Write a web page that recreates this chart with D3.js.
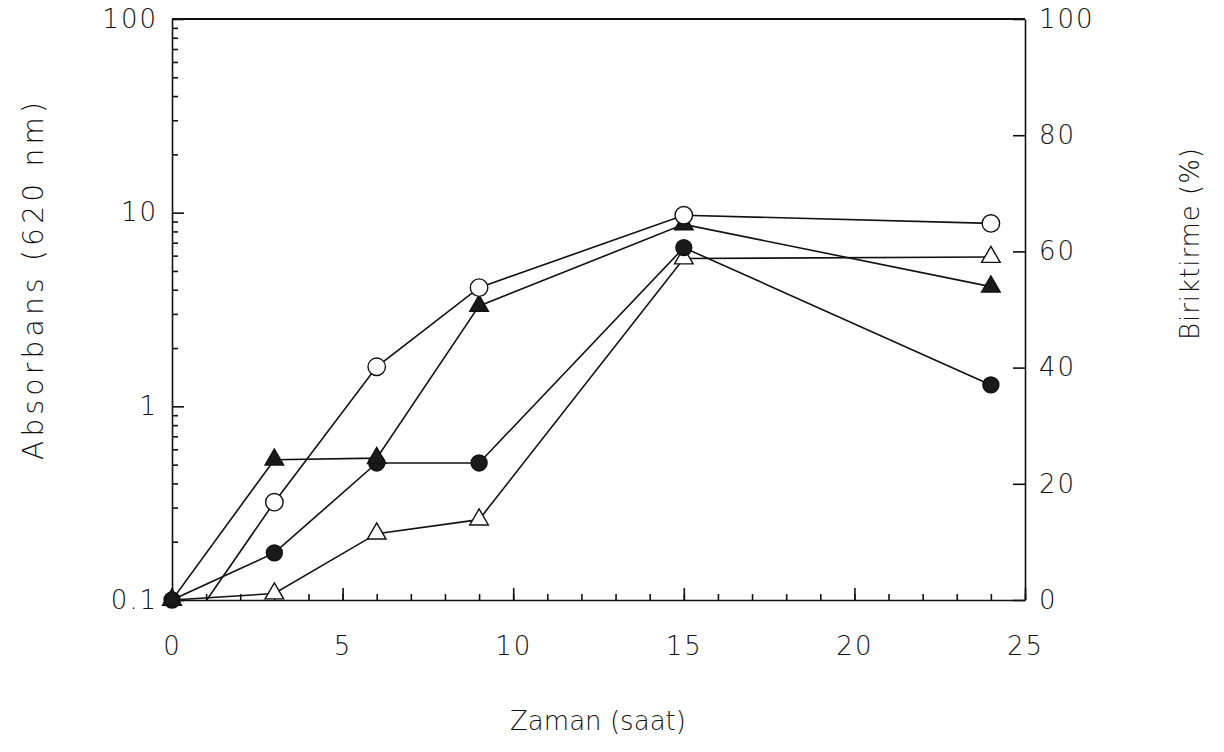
<html>
<head>
  <meta charset="utf-8">
  <title>Absorbans / Biriktirme</title>
  <style>
    body { margin: 0; background: #fff; }
    text { font-family: "DejaVu Sans", "Liberation Sans", sans-serif; font-weight: 200; fill: #111; }
  </style>
  <script src="https://d3js.org/d3.v7.min.js"></script>
</head>
<body>
  <div id="container"></div>
  <script>
    // ******* data *******
    const hours = [0, 3, 6, 9, 15, 24];
    const openCircle = [0.055, 0.32, 1.6, 4.1, 9.7, 8.8];
    const filledCircle = [0.1, 0.175, 0.51, 0.51, 6.6, 1.29];
    const openTriangle = [0.1, 0.108, 0.22, 0.26, 5.8, 5.9];
    const filledTriangle = [0.1, 0.53, 0.54, 3.3, 8.7, 4.15];

    const xTicks = [0, 5, 10, 15, 20, 25];
    const leftTicks = [0.1, 1, 10, 100];
    const rightTicks = [0, 20, 40, 60, 80, 100];

    // ******* layout *******
    const width = 1224,
          height = 752,
          margin = { top: 19, right: 199, bottom: 152, left: 172 };
    const plotW = width - margin.left - margin.right,
          plotH = height - margin.top - margin.bottom;

    const svg = d3.select("#container")
      .append("svg")
      .attr("width", width)
      .attr("height", height)
      .style("display", "block");

    const g = svg.append("g")
      .attr("transform", "translate(" + margin.left + "," + margin.top + ")");

    const x = d3.scaleLinear().domain([0, 25]).range([0, plotW]);
    const y = d3.scaleLog().domain([0.1, 100]).range([plotH, 0]);
    const yRight = d3.scaleLinear().domain([0, 100]).range([plotH, 0]);

    // clip for the lines (the open circle series starts below 0.1)
    svg.append("defs").append("clipPath").attr("id", "plotClip")
      .append("rect").attr("width", plotW).attr("height", plotH);

    const fmt = d => (d < 1 ? "0.1" : String(d));

    // minor ticks first
    const minorLog = [];
    [0.1, 1, 10].forEach(dec => { for (let k = 2; k <= 9; k++) minorLog.push(dec * k); });
    g.append("g")
      .call(d3.axisLeft(y).tickValues(minorLog).tickFormat("").tickSizeInner(-6).tickSizeOuter(0))
      .call(a => a.select(".domain").remove());
    g.append("g")
      .attr("transform", "translate(0," + plotH + ")")
      .call(d3.axisBottom(x).tickValues(d3.range(0, 26, 1)).tickFormat("").tickSizeInner(-6).tickSizeOuter(0))
      .call(a => a.select(".domain").remove());

    // major axes
    const leftAxis = g.append("g")
      .call(d3.axisLeft(y).tickValues(leftTicks).tickFormat(fmt).tickSizeInner(-12).tickSizeOuter(0).tickPadding(14));
    const bottomAxis = g.append("g")
      .attr("transform", "translate(0," + plotH + ")")
      .call(d3.axisBottom(x).tickValues(xTicks).tickSizeInner(-12).tickSizeOuter(0).tickPadding(37));
    const rightAxis = g.append("g")
      .attr("transform", "translate(" + plotW + ",0)")
      .call(d3.axisRight(yRight).tickValues(rightTicks).tickSizeInner(-12).tickSizeOuter(0).tickPadding(14));

    [leftAxis, bottomAxis, rightAxis].forEach(a => {
      a.selectAll("text")
        .style("font-size", "26px")
        .style("font-family", "'DejaVu Sans', sans-serif")
        .style("font-weight", "200")
        .style("letter-spacing", "2px");
    });
    g.selectAll(".domain, .tick line").attr("stroke", "#111").attr("stroke-width", 1.6);

    // top border
    g.append("line")
      .attr("x1", 0).attr("x2", plotW).attr("y1", 0).attr("y2", 0)
      .attr("stroke", "#111").attr("stroke-width", 2);

    // axis titles
    svg.append("text")
      .attr("transform", "translate(43,281) rotate(-90)")
      .attr("text-anchor", "middle")
      .attr("textLength", 358)
      .attr("lengthAdjust", "spacing")
      .style("font-size", "28px")
      .text("Absorbans (620 nm)");
    svg.append("text")
      .attr("transform", "translate(1199,244) rotate(-90)")
      .attr("text-anchor", "middle")
      .attr("textLength", 192)
      .attr("lengthAdjust", "spacing")
      .style("font-size", "26px")
      .text("Biriktirme (%)");
    svg.append("text")
      .attr("x", 598).attr("y", 730)
      .attr("text-anchor", "middle")
      .attr("textLength", 176)
      .attr("lengthAdjust", "spacing")
      .style("font-size", "26px")
      .text("Zaman (saat)");

    // ******* series *******
    const series = [
      { name: "openTriangle", values: openTriangle, shape: "triangle", filled: false },
      { name: "filledCircle", values: filledCircle, shape: "circle", filled: true },
      { name: "filledTriangle", values: filledTriangle, shape: "triangle", filled: true },
      { name: "openCircle", values: openCircle, shape: "circle", filled: false }
    ];

    const line = d3.line().x(d => x(d[0])).y(d => y(d[1]));

    series.forEach(s => {
      const pts = hours.map((h, i) => [h, s.values[i]]);
      g.append("path")
        .datum(pts)
        .attr("clip-path", "url(#plotClip)")
        .attr("fill", "none")
        .attr("stroke", "#111")
        .attr("stroke-width", 1.6)
        .attr("d", line);
    });

    const triSym = d3.symbol().type(d3.symbolTriangle).size(150);
    series.forEach(s => {
      const pts = hours.map((h, i) => [h, s.values[i]]).filter(p => p[1] >= 0.1);
      const m = g.append("g").selectAll("path").data(pts).join("path")
        .attr("transform", d => "translate(" + x(d[0]) + "," + y(d[1]) + ")")
        .attr("stroke", "#111")
        .attr("stroke-width", 1.4)
        .attr("fill", s.filled ? "#1a1a1a" : "#fff");
      if (s.shape === "circle") {
        m.attr("d", d3.symbol().type(d3.symbolCircle).size(s.filled ? 200 : 240)());
      } else {
        m.attr("d", triSym());
      }
    });
  </script>
</body>
</html>
